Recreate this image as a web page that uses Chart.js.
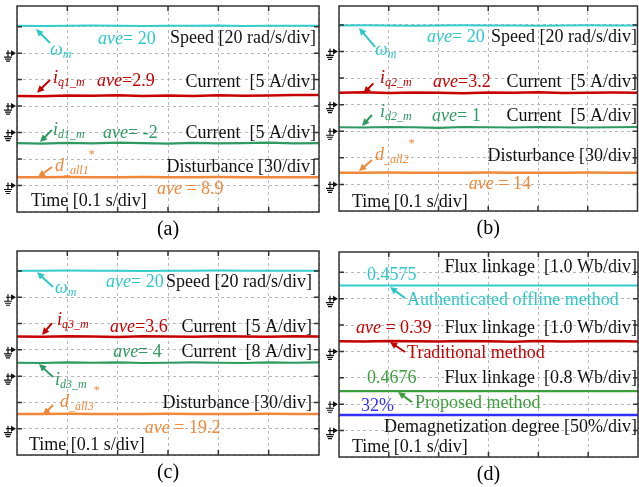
<!DOCTYPE html>
<html>
<head>
<meta charset="utf-8">
<script src="https://cdn.jsdelivr.net/npm/chart.js@4.4.1/dist/chart.umd.min.js"></script>
<style>
  body { margin: 0; background: #fff; }
  .panel { position: absolute; }
</style>
</head>
<body>
<div class="panel" style="left:0;top:0"><canvas id="chartA" width="320" height="240"></canvas></div>
<div class="panel" style="left:320px;top:0"><canvas id="chartB" width="319" height="240"></canvas></div>
<div class="panel" style="left:0;top:240px"><canvas id="chartC" width="320" height="247"></canvas></div>
<div class="panel" style="left:320px;top:240px"><canvas id="chartD" width="319" height="247"></canvas></div>
<script>
//// Data (trace levels, in divisions; time in s)

const timeSamples = [0, 0.05, 0.1, 0.15, 0.2, 0.25, 0.3, 0.35, 0.4, 0.45, 0.5, 0.55, 0.6];

// (a)
const speedA = [7.03, 7.02, 7.03, 7.04, 7.03, 7.02, 7.03, 7.03, 7.04, 7.02, 7.03, 7.03, 7.03];
const iqA = [4.38, 4.37, 4.40, 4.39, 4.41, 4.38, 4.40, 4.38, 4.41, 4.39, 4.40, 4.42, 4.42];
const idA = [2.60, 2.58, 2.61, 2.59, 2.62, 2.60, 2.58, 2.61, 2.59, 2.60, 2.62, 2.59, 2.60];
const distA = [1.31, 1.31, 1.32, 1.31, 1.31, 1.32, 1.31, 1.31, 1.32, 1.31, 1.31, 1.31, 1.31];
const groundA = [6, 4, 3, 1];

// (b)
const speedB = [6.98, 6.99, 6.98, 6.97, 6.98, 6.99, 6.98, 6.98, 6.97, 6.98, 6.99, 6.98, 6.98];
const iqB = [4.45, 4.47, 4.44, 4.46, 4.45, 4.43, 4.46, 4.45, 4.47, 4.44, 4.45, 4.46, 4.45];
const idB = [3.15, 3.14, 3.16, 3.15, 3.13, 3.16, 3.15, 3.14, 3.16, 3.15, 3.14, 3.15, 3.16];
const distB = [1.44, 1.44, 1.45, 1.44, 1.44, 1.44, 1.45, 1.44, 1.44, 1.44, 1.45, 1.44, 1.44];
const groundB = [6, 4, 3, 1];

// (c)
const speedC = [7.01, 7.01, 7.02, 7.01, 7.01, 7.00, 7.01, 7.01, 7.02, 7.01, 7.01, 7.01, 7.01];
const iqC = [4.51, 4.50, 4.52, 4.51, 4.49, 4.52, 4.51, 4.50, 4.52, 4.51, 4.50, 4.52, 4.51];
const idC = [3.51, 3.50, 3.52, 3.51, 3.52, 3.50, 3.51, 3.52, 3.51, 3.50, 3.52, 3.51, 3.52];
const distC = [1.56, 1.56, 1.57, 1.56, 1.56, 1.56, 1.57, 1.56, 1.56, 1.56, 1.57, 1.56, 1.56];
const groundC = [6, 4, 3, 1];

// (d)
const fluxOffline = [6.50, 6.50, 6.50, 6.50, 6.50, 6.50, 6.50, 6.50, 6.50, 6.50, 6.50, 6.50, 6.50];
const fluxTraditional = [4.39, 4.38, 4.40, 4.39, 4.38, 4.40, 4.39, 4.37, 4.40, 4.38, 4.39, 4.40, 4.38];
const fluxProposed = [2.50, 2.50, 2.50, 2.50, 2.50, 2.50, 2.50, 2.50, 2.50, 2.50, 2.50, 2.50, 2.50];
const demagDegree = [1.59, 1.59, 1.59, 1.59, 1.59, 1.59, 1.59, 1.59, 1.59, 1.59, 1.59, 1.59, 1.59];
const groundD = [6, 4, 2, 1];

const captions = ['(a)', '(b)', '(c)', '(d)'];

//// Styles

const SERIF = '"Liberation Serif", "Times New Roman", serif';
const BLACK = '#111';
const CYAN = '#2ec8c8';
const RED = '#c40000';
const GREEN = '#2e9a62';
const ORANGE = '#f0883a';
const GREEN_D = '#3c9e3c';
const BLUE = '#3030ff';

const runFonts = {
    n: { font: `18px ${SERIF}`, dy: 0 },
    i: { font: `italic 18px ${SERIF}`, dy: 0 },
    sub: { font: `italic 12px ${SERIF}`, dy: 5 },
    sup: { font: `12px ${SERIF}`, dy: -11 }
};

// Annotations (positions in axis units)
const labelsA = [
    { x: 0.0656, y: 6.12, color: CYAN, runs: [['ω', 'i'], ['m', 'sub']] },
    { x: 0.161, y: 6.54, color: CYAN, runs: [['ave', 'i'], ['= 20', 'n']] },
    { x: 0.594, y: 6.57, align: 'right', runs: [['Speed [20 rad/s/div]', 'n']] },
    { x: 0.0715, y: 5.06, color: RED, runs: [['i', 'i'], ['q1_m', 'sub']] },
    { x: 0.159, y: 4.95, color: RED, runs: [['ave', 'i'], ['=2.9', 'n']] },
    { x: 0.594, y: 4.91, align: 'right', runs: [['Current  [5 A/div]', 'n']] },
    { x: 0.0715, y: 3.10, color: GREEN, runs: [['i', 'i'], ['d1_m', 'sub']] },
    { x: 0.171, y: 2.98, color: GREEN, runs: [['ave', 'i'], ['= -2', 'n']] },
    { x: 0.594, y: 2.98, align: 'right', runs: [['Current  [5 A/div]', 'n']] },
    { x: 0.0755, y: 1.74, color: ORANGE, runs: [['d', 'i'], ['_all1', 'sub'], ['*', 'sup']] },
    { x: 0.594, y: 1.70, align: 'right', runs: [['Disturbance [30/div]', 'n']] },
    { x: 0.278, y: 0.87, color: ORANGE, runs: [['ave', 'i'], [' = 8.9', 'n']] },
    { x: 0.0278, y: 0.42, runs: [['Time [0.1 s/div]', 'n']] }
];
const arrowsA = [
    { from: [0.0656, 6.38], to: [0.0378, 6.91], color: CYAN },
    { from: [0.0656, 4.99], to: [0.0397, 4.50], color: RED },
    { from: [0.0695, 3.10], to: [0.0457, 2.64], color: GREEN },
    { from: [0.0695, 1.70], to: [0.0417, 1.32], color: ORANGE }
];

const labelsB = [
    { x: 0.0724, y: 6.05, color: CYAN, runs: [['ω', 'i'], ['m', 'sub']] },
    { x: 0.177, y: 6.54, color: CYAN, runs: [['ave', 'i'], ['= 20', 'n']] },
    { x: 0.599, y: 6.54, align: 'right', runs: [['Speed [20 rad/s/div]', 'n']] },
    { x: 0.0824, y: 5.0, color: RED, runs: [['i', 'i'], ['q2_m', 'sub']] },
    { x: 0.189, y: 4.85, color: RED, runs: [['ave', 'i'], ['=3.2', 'n']] },
    { x: 0.599, y: 4.85, align: 'right', runs: [['Current  [5 A/div]', 'n']] },
    { x: 0.0824, y: 3.72, color: GREEN, runs: [['i', 'i'], ['d2_m', 'sub']] },
    { x: 0.187, y: 3.57, color: GREEN, runs: [['ave', 'i'], ['= 1', 'n']] },
    { x: 0.599, y: 3.57, align: 'right', runs: [['Current  [5 A/div]', 'n']] },
    { x: 0.0724, y: 2.1, color: ORANGE, runs: [['d', 'i'], ['_all2', 'sub'], ['*', 'sup']] },
    { x: 0.599, y: 2.07, align: 'right', runs: [['Disturbance [30/div]', 'n']] },
    { x: 0.261, y: 1.02, color: ORANGE, runs: [['ave', 'i'], [' = 14', 'n']] },
    { x: 0.026, y: 0.34, runs: [['Time [0.1 s/div]', 'n']] }
];
const arrowsB = [
    { from: [0.0724, 6.17], to: [0.0402, 6.88], color: CYAN },
    { from: [0.069, 4.80], to: [0.0489, 4.42], color: RED },
    { from: [0.0663, 3.61], to: [0.0462, 3.20], color: GREEN },
    { from: [0.0663, 1.92], to: [0.0402, 1.50], color: ORANGE }
];

const labelsC = [
    { x: 0.0755, y: 6.35, color: CYAN, runs: [['ω', 'i'], ['m', 'sub']] },
    { x: 0.177, y: 6.58, color: CYAN, runs: [['ave', 'i'], ['= 20', 'n']] },
    { x: 0.586, y: 6.58, align: 'right', runs: [['Speed [20 rad/s/div]', 'n']] },
    { x: 0.0795, y: 5.13, color: RED, runs: [['i', 'i'], ['q3_m', 'sub']] },
    { x: 0.185, y: 4.87, color: RED, runs: [['ave', 'i'], ['=3.6', 'n']] },
    { x: 0.586, y: 4.87, align: 'right', runs: [['Current  [5 A/div]', 'n']] },
    { x: 0.191, y: 3.92, color: GREEN, runs: [['ave', 'i'], ['= 4', 'n']] },
    { x: 0.586, y: 3.92, align: 'right', runs: [['Current  [8 A/div]', 'n']] },
    { x: 0.0755, y: 2.85, color: GREEN, runs: [['i', 'i'], ['d3_m', 'sub']] },
    { x: 0.0854, y: 2.02, color: ORANGE, runs: [['d', 'i'], ['_all3', 'sub'], ['*', 'sup']] },
    { x: 0.586, y: 1.98, align: 'right', runs: [['Disturbance [30/div]', 'n']] },
    { x: 0.254, y: 1.03, color: ORANGE, runs: [['ave', 'i'], [' = 19.2', 'n']] },
    { x: 0.0238, y: 0.38, runs: [['Time [0.1 s/div]', 'n']] }
];
const arrowsC = [
    { from: [0.0715, 6.39], to: [0.0397, 6.96], color: CYAN },
    { from: [0.0695, 5.02], to: [0.0497, 4.56], color: RED },
    { from: [0.0715, 2.97], to: [0.0437, 3.46], color: GREEN },
    { from: [0.0715, 1.90], to: [0.0517, 1.52], color: ORANGE }
];

const labelsD = [
    { x: 0.598, y: 7.2, align: 'right', runs: [['Flux linkage  [1.0 Wb/div]', 'n']] },
    { x: 0.0562, y: 6.89, color: CYAN, runs: [['0.4575', 'n']] },
    { x: 0.1365, y: 5.95, color: CYAN, runs: [['Authenticated offline method', 'n']] },
    { x: 0.0341, y: 4.89, color: RED, runs: [['ave', 'i'], [' = 0.39', 'n']] },
    { x: 0.598, y: 4.89, align: 'right', runs: [['Flux linkage  [1.0 Wb/div]', 'n']] },
    { x: 0.1365, y: 3.94, color: RED, runs: [['Traditional method', 'n']] },
    { x: 0.0562, y: 2.99, color: GREEN_D, runs: [['0.4676', 'n']] },
    { x: 0.598, y: 2.99, align: 'right', runs: [['Flux linkage  [0.8 Wb/div]', 'n']] },
    { x: 0.1525, y: 2.05, color: GREEN_D, runs: [['Proposed method', 'n']] },
    { x: 0.0441, y: 1.93, color: BLUE, runs: [['32%', 'n']] },
    { x: 0.598, y: 1.14, align: 'right', runs: [['Demagnetization degree [50%/div]', 'n']] },
    { x: 0.0261, y: 0.38, runs: [['Time [0.1 s/div]', 'n']] }
];
const arrowsD = [
    { from: [0.1325, 6.02], to: [0.1023, 6.44], color: CYAN },
    { from: [0.1325, 3.98], to: [0.1023, 4.36], color: RED },
    { from: [0.1465, 2.08], to: [0.1184, 2.46], color: GREEN_D }
];

//// Drawing helpers

const drawRuns = (ctx, runs, x, y, align, color) => {
    ctx.save();
    ctx.fillStyle = color || BLACK;
    ctx.textBaseline = 'middle';
    ctx.textAlign = 'left';
    let total = 0;
    runs.forEach(([text, kind]) => {
        ctx.font = runFonts[kind].font;
        total += ctx.measureText(text).width;
    });
    let cx = align === 'right' ? x - total : x;
    runs.forEach(([text, kind]) => {
        ctx.font = runFonts[kind].font;
        ctx.fillText(text, cx, y + runFonts[kind].dy);
        cx += ctx.measureText(text).width;
    });
    ctx.restore();
};

const drawArrow = (ctx, x1, y1, x2, y2, color) => {
    const ang = Math.atan2(y2 - y1, x2 - x1);
    const head = 8;
    ctx.save();
    ctx.strokeStyle = color;
    ctx.fillStyle = color;
    ctx.lineWidth = 2;
    ctx.beginPath();
    ctx.moveTo(x1, y1);
    ctx.lineTo(x2 - Math.cos(ang) * head * 0.8, y2 - Math.sin(ang) * head * 0.8);
    ctx.stroke();
    ctx.beginPath();
    ctx.moveTo(x2, y2);
    ctx.lineTo(x2 - Math.cos(ang - 0.45) * head, y2 - Math.sin(ang - 0.45) * head);
    ctx.lineTo(x2 - Math.cos(ang + 0.45) * head, y2 - Math.sin(ang + 0.45) * head);
    ctx.closePath();
    ctx.fill();
    ctx.restore();
};

const drawGround = (ctx, x0, y) => {
    ctx.save();
    ctx.strokeStyle = '#111';
    ctx.fillStyle = '#111';
    ctx.lineWidth = 1.2;
    ctx.beginPath();
    ctx.moveTo(x0 - 11, y);
    ctx.lineTo(x0 - 4, y);
    ctx.moveTo(x0 - 9, y - 3);
    ctx.lineTo(x0 - 9, y + 4);
    ctx.moveTo(x0 - 13, y + 4);
    ctx.lineTo(x0 - 5, y + 4);
    ctx.moveTo(x0 - 12, y + 6);
    ctx.lineTo(x0 - 6, y + 6);
    ctx.moveTo(x0 - 11, y + 8);
    ctx.lineTo(x0 - 7, y + 8);
    ctx.stroke();
    ctx.beginPath();
    ctx.moveTo(x0 - 1, y);
    ctx.lineTo(x0 - 6, y - 3);
    ctx.lineTo(x0 - 6, y + 3);
    ctx.closePath();
    ctx.fill();
    ctx.restore();
};

// per-panel plugin: annotations, scope frame with inner ticks, ground markers
const makeScopePlugin = (labels, arrows, grounds) => ({
    id: 'scope',
    afterDatasetsDraw(chart) {
        const { ctx, scales: { x, y } } = chart;
        arrows.forEach(a => drawArrow(ctx,
            x.getPixelForValue(a.from[0]), y.getPixelForValue(a.from[1]),
            x.getPixelForValue(a.to[0]), y.getPixelForValue(a.to[1]), a.color));
        labels.forEach(l => drawRuns(ctx, l.runs,
            x.getPixelForValue(l.x), y.getPixelForValue(l.y), l.align, l.color));
    },
    afterDraw(chart) {
        const { ctx, chartArea: area, scales: { x, y } } = chart;
        ctx.save();
        ctx.strokeStyle = '#333';
        ctx.lineWidth = 1.5;
        ctx.strokeRect(area.left, area.top, area.right - area.left, area.bottom - area.top);
        ctx.beginPath();
        x.ticks.forEach(t => {
            const px = x.getPixelForValue(t.value);
            if (px <= area.left + 1 || px >= area.right - 1) return;
            ctx.moveTo(px, area.top); ctx.lineTo(px, area.top + 5);
            ctx.moveTo(px, area.bottom); ctx.lineTo(px, area.bottom - 5);
        });
        y.ticks.forEach(t => {
            const py = y.getPixelForValue(t.value);
            if (py <= area.top + 1 || py >= area.bottom - 1) return;
            ctx.moveTo(area.left, py); ctx.lineTo(area.left + 5, py);
            ctx.moveTo(area.right, py); ctx.lineTo(area.right - 5, py);
        });
        ctx.stroke();
        ctx.restore();
        grounds.forEach(g => drawGround(ctx, area.left, y.getPixelForValue(g)));
    }
});

const trace = (values, color, width) => ({
    data: values.map((v, i) => ({ x: timeSamples[i], y: v })),
    borderColor: color,
    borderWidth: width,
    pointRadius: 0,
    tension: 0
});

const axisGrid = { color: '#b8b8b8', lineWidth: 1, drawTicks: false };

const buildChart = (id, caption, datasets, yMax, padding, titlePad, labels, arrows, grounds) => {
    new Chart(document.getElementById(id), {
        type: 'line',
        data: { datasets },
        options: {
            responsive: false,
            animation: false,
            layout: { padding },
            plugins: {
                legend: { display: false },
                tooltip: { enabled: false },
                title: {
                    display: true,
                    text: caption,
                    position: 'bottom',
                    color: '#000',
                    font: { family: SERIF, size: 20, weight: 'normal', lineHeight: 1 },
                    padding: titlePad
                }
            },
            scales: {
                x: {
                    type: 'linear', min: 0, max: 0.6,
                    ticks: { display: false, stepSize: 0.1 },
                    grid: axisGrid,
                    border: { display: false, dash: [3, 3] }
                },
                y: {
                    type: 'linear', min: 0, max: yMax,
                    ticks: { display: false, stepSize: 1, includeBounds: false },
                    grid: axisGrid,
                    border: { display: false, dash: [3, 3] }
                }
            }
        },
        plugins: [makeScopePlugin(labels, arrows, grounds)]
    });
};

//// Executions state
window.onload = () => {
    buildChart('chartA', captions[0],
        [trace(speedA, '#34cccc', 2), trace(iqA, '#c80000', 2.5), trace(idA, GREEN, 2.2), trace(distA, ORANGE, 2.5)],
        7.78, { left: 17, right: 1, top: 6, bottom: 0 }, { top: 8, bottom: 0 }, labelsA, arrowsA, groundA);
    buildChart('chartB', captions[1],
        [trace(speedB, '#34cccc', 2), trace(iqB, '#c80000', 2.5), trace(idB, GREEN, 2.2), trace(distB, ORANGE, 2.5)],
        7.71, { left: 19, right: 1.5, top: 6, bottom: 0 }, { top: 8, bottom: 1 }, labelsB, arrowsB, groundB);
    buildChart('chartC', captions[2],
        [trace(speedC, '#34cccc', 2), trace(iqC, '#c80000', 2.5), trace(idC, GREEN, 2.2), trace(distC, ORANGE, 2.5)],
        7.76, { left: 17, right: 1, top: 11, bottom: 0 }, { top: 8, bottom: 4 }, labelsC, arrowsC, groundC);
    buildChart('chartD', captions[3],
        [trace(fluxOffline, '#33cccc', 2), trace(fluxTraditional, '#c00000', 2.5), trace(fluxProposed, GREEN_D, 2.2), trace(demagDegree, BLUE, 2.5)],
        7.77, { left: 19, right: 1, top: 12, bottom: 0 }, { top: 8, bottom: 2 }, labelsD, arrowsD, groundD);
};
</script>
</body>
</html>
